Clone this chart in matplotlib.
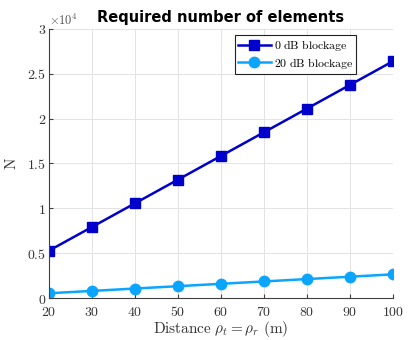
import numpy as np
import matplotlib
matplotlib.use("Agg")
import matplotlib.pyplot as plt

plt.rcParams['mathtext.fontset'] = 'cm'
plt.rcParams['font.family'] = 'serif'
plt.rcParams['font.serif'] = ['DejaVu Serif']

# data
distance = [20, 30, 40, 50, 60, 70, 80, 90, 100]
n_0db = [5280, 7920, 10560, 13200, 15840, 18480, 21120, 23760, 26400]
n_20db = [528, 792, 1056, 1320, 1584, 1848, 2112, 2376, 2640]
xticks = [20, 30, 40, 50, 60, 70, 80, 90, 100]
yticks = [0, 5000, 10000, 15000, 20000, 25000, 30000]
ytick_labels = ['0', '0.5', '1', '1.5', '2', '2.5', '3']

fig = plt.figure(figsize=(4.19, 3.4), dpi=100)
ax = fig.add_axes([0.117, 0.1235, 0.821, 0.7915])

ax.plot(distance, n_0db, color='#0000CC', lw=1.8, marker='s', ms=6.5,
        label=r'$\mathrm{0\ dB\ blockage}$')
ax.plot(distance, n_20db, color='#0AA5FF', lw=1.8, marker='o', ms=7.5,
        label=r'$\mathrm{20\ dB\ blockage}$')

ax.set_xlim(20, 100)
ax.set_ylim(0, 30000)
ax.set_xticks(xticks)
ax.set_xticklabels(['$%d$' % v for v in xticks], fontsize=10)
ax.set_yticks(yticks)
ax.set_yticklabels(['$%s$' % s for s in ytick_labels], fontsize=10)
ax.grid(True, color='#e3e3e3', lw=0.7)
ax.set_axisbelow(True)
for s in ['top', 'right']:
    ax.spines[s].set_visible(False)
for s in ['left', 'bottom']:
    ax.spines[s].set_color('#404040')
    ax.spines[s].set_linewidth(0.8)
ax.tick_params(direction='in', length=3, colors='#404040', labelcolor='#333333')
ax.tick_params(axis='x', pad=5)
ax.tick_params(axis='y', pad=2)

ax.set_xlabel(r'$\mathrm{Distance}\ \rho_t = \rho_r\ \mathrm{(m)}$', fontsize=11, color='#333333', labelpad=0)
ax.set_ylabel(r'$\mathrm{N}$', fontsize=11, color='#333333', labelpad=6)
ax.set_title('Required number of elements', fontsize=10.5, fontweight='bold',
             family='DejaVu Sans', pad=5)
ax.text(0.0, 1.015, r'$\times10^4$', transform=ax.transAxes, fontsize=9, color='#555555')

leg = ax.legend(loc='upper right', bbox_to_anchor=(0.9, 0.985), fontsize=8.5, fancybox=False,
                framealpha=1, edgecolor='#222222', borderpad=0.25, handlelength=2.8,
                labelspacing=0.2, handletextpad=0.25, borderaxespad=0.2)
leg.get_frame().set_linewidth(0.8)

fig.savefig('out.png', dpi=100)
